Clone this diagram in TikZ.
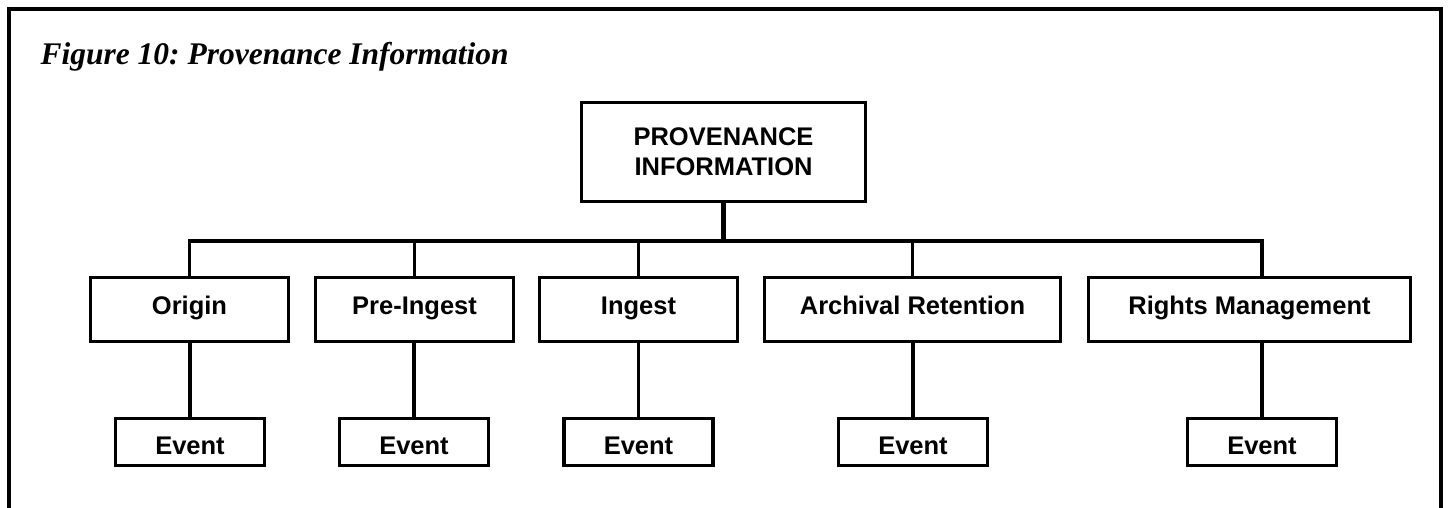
\documentclass[tikz,border=0pt]{standalone}
\usepackage{fontspec}
\setmainfont{Liberation Serif}
\setsansfont{Liberation Sans}
\frenchspacing

\begin{document}
\begin{tikzpicture}[x=1pt,y=-1pt,
	box/.style={draw,line width=3.3pt,inner sep=0pt,font=\sffamily\bfseries\fontsize{25.5}{30}\selectfont},
	kind/.style={box,minimum width=198pt,minimum height=64pt,text height=18pt,text depth=9pt},
	event/.style={box,minimum width=149pt,minimum height=47pt,text height=24pt,text depth=0pt},
	link/.style={line width=3.3pt}]
	\useasboundingbox (0,0) rectangle (1449,508);
	\draw[line width=3.7pt] (9.2,508) |- (1441,9.2) -- (1441,508);
	\node[anchor=base west,font=\bfseries\itshape\fontsize{31.5}{36}\selectfont] (title) at (37,65) {Figure 10: Provenance Information};
	\node[box,align=center,minimum width=284pt,minimum height=99pt] (prov) at (723.5,152) {PROVENANCE\\INFORMATION};
	\node[kind] (origin) at (189.5,309.5) {Origin};
	\node[kind] (preingest) at (414.5,309.5) {Pre-Ingest};
	\node[kind] (ingest) at (638.5,309.5) {Ingest};
	\node[kind,minimum width=296pt] (archival) at (912.5,309.5) {Archival Retention};
	\node[kind,minimum width=322pt] (rights) at (1249.5,309.5) {Rights Management};
	\node[event] (originev) at (190,442) {Event};
	\node[event] (preingestev) at (414,442) {Event};
	\node[event] (ingestev) at (638.5,442) {Event};
	\node[event] (archivalev) at (913,442) {Event};
	\node[event] (rightsev) at (1262,442) {Event};
	\coordinate (bus) at (0,241);
	\draw[link,line width=4.5pt] (prov.south) -- (prov |- bus);
	\draw[link] (origin.north) |- (rightsev |- bus) -- (rightsev |- rights.north);
	\foreach \n in {preingest,ingest,archival}
		\draw[link] (\n.north) -- (\n |- bus);
	\foreach \n in {origin,preingest,ingest,archival,rights}
		\draw[link] (\n ev.north) -- (\n ev |- \n.south);
\end{tikzpicture}
\end{document}
